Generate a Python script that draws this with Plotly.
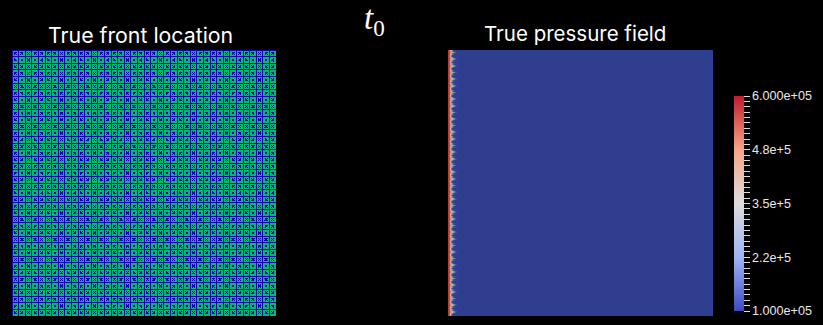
import plotly.graph_objects as go

W, H = 823, 325
cells = 40
mesh_nodes = list(range(cells + 1))
front_saturation = [[0] * cells for _ in range(cells)]

# pressure (Pa) per pixel-wide column near the inlet, for the four phases of the mesh-cell ripple
ripple_peak = [5.8e5, 5.6e5, 4.9e5, 4.1e5, 3.4e5, 2.8e5, 2.2e5, 1.6e5, 1.2e5]
ripple_mid = [5.8e5, 5.6e5, 4.4e5, 3.2e5, 2.2e5, 1.5e5, 1.2e5, 1.0e5, 1.0e5]
ripple_low = [5.8e5, 5.5e5, 3.5e5, 2.0e5, 1.3e5, 1.0e5, 1.0e5, 1.0e5, 1.0e5]
far_field = 1.0e5
cmin, cmax = 1.0e5, 6.0e5

major_ticks = [1.0e5, 2.25e5, 3.5e5, 4.75e5, 6.0e5]
major_labels = ["1.000e+05", "2.2e+5", "3.5e+5", "4.8e+5", "6.000e+05"]
titles = ["True front location", "True pressure field"]

fig = go.Figure()

# left panel: mesh over a uniform field
fig.add_trace(go.Heatmap(z=front_saturation, x0=0.5, dx=1, y0=0.5, dy=1, zmin=0, zmax=1,
                         colorscale=[[0, "#0CB474"], [1, "#0CB474"]], showscale=False,
                         hoverinfo="skip", xaxis="x", yaxis="y"))
lx, ly = [], []
for n in mesh_nodes:
    lx += [n, n, None, 0, cells, None]
    ly += [0, cells, None, n, n, None]
# centre cross of each mesh cell
a, b = 0.3, 0.7
for i in mesh_nodes[:-1]:
    for j in mesh_nodes[:-1]:
        lx += [i + a, i + b, None, i + a, i + b, None]
        ly += [j + a, j + b, None, j + b, j + a, None]
fig.add_trace(go.Scatter(x=lx, y=ly, mode="lines", line=dict(color="#0C0CA4", width=1),
                         hoverinfo="skip", showlegend=False, xaxis="x", yaxis="y"))

# right panel: pressure field
px = cells / 265
x_edges = [i * px for i in range(len(ripple_peak) + 1)] + [cells]
period = [ripple_peak, ripple_mid, ripple_low, ripple_mid]
z = []
for r in range(cells * 4):
    z.append(period[(r + 2) % 4] + [far_field])
y_edges = [r / 4 for r in range(cells * 4 + 1)]
field_scale = [[0, "#2F3E8E"], [0.25, "#6A7AB0"], [0.5, "#B8B8B8"], [0.75, "#D89070"], [1, "#B0302D"]]
fig.add_trace(go.Heatmap(z=z, x=x_edges, y=y_edges, zmin=cmin, zmax=cmax, colorscale=field_scale,
                         showscale=False, hoverinfo="skip", xaxis="x2", yaxis="y2"))

# colour legend
tickvals = [cmin + i * 0.125e5 for i in range(41)]
ticktext = [major_labels[major_ticks.index(v)] if v in major_ticks else "" for v in tickvals]
bar_scale = [[0, "#3B4CC0"], [0.25, "#9DB4F5"], [0.5, "#DDDDDD"], [0.75, "#F5A585"], [1, "#BE1E2D"]]
fig.add_trace(go.Scatter(x=[20, 20], y=[20, 20], mode="markers", showlegend=False, hoverinfo="skip",
                         xaxis="x2", yaxis="y2",
                         marker=dict(size=1, opacity=0, color=[cmin, cmax], cmin=cmin, cmax=cmax,
                                     colorscale=bar_scale, showscale=True,
                                     colorbar=dict(xref="paper", yref="paper", x=734 / W, xanchor="left",
                                                   y=1 - 311 / H, yanchor="bottom",
                                                   len=215 / H, lenmode="fraction",
                                                   thickness=10, thicknessmode="pixels",
                                                   outlinewidth=0, borderwidth=0, xpad=0, ypad=0,
                                                   tickmode="array", tickvals=tickvals, ticktext=ticktext,
                                                   ticks="outside", ticklen=6, tickwidth=1, tickcolor="#DDDDDD",
                                                   tickfont=dict(family="Liberation Sans", size=12.6, color="#E8E8E8")))))

top, bottom = 1 - 50 / H, 1 - 316 / H
hidden = dict(visible=False, range=[0, cells], fixedrange=True)
fig.update_layout(
    width=W, height=H, margin=dict(l=0, r=0, t=0, b=0), autosize=False,
    paper_bgcolor="black", plot_bgcolor="black", showlegend=False,
    xaxis=dict(domain=[12 / W, 276 / W], **hidden),
    yaxis=dict(domain=[bottom, top], **hidden),
    xaxis2=dict(domain=[448 / W, 713 / W], **hidden),
    yaxis2=dict(domain=[bottom, top], **hidden),
    annotations=[
        dict(text=titles[0], x=140.5 / W, y=1 - 35 / H, xref="paper", yref="paper", showarrow=False,
             xanchor="center", yanchor="middle", font=dict(family="Inter", size=21.3, color="white")),
        dict(text=titles[1], x=574.5 / W, y=1 - 34 / H, xref="paper", yref="paper", showarrow=False,
             xanchor="center", yanchor="middle", font=dict(family="Inter", size=20.5, color="white")),
        dict(text="<i>t</i><sub>0</sub>", x=374 / W, y=1 - 20 / H, xref="paper", yref="paper", showarrow=False,
             xanchor="center", yanchor="middle", font=dict(family="Liberation Serif", size=33, color="white")),
    ],
)
fig.write_html("out.html", config=dict(displayModeBar=False),
               post_script="document.body.style.margin='0';document.body.style.background='black';"
                           "document.querySelectorAll('.scatterlayer .js-line').forEach(function(p){p.style.shapeRendering='crispEdges';});")
